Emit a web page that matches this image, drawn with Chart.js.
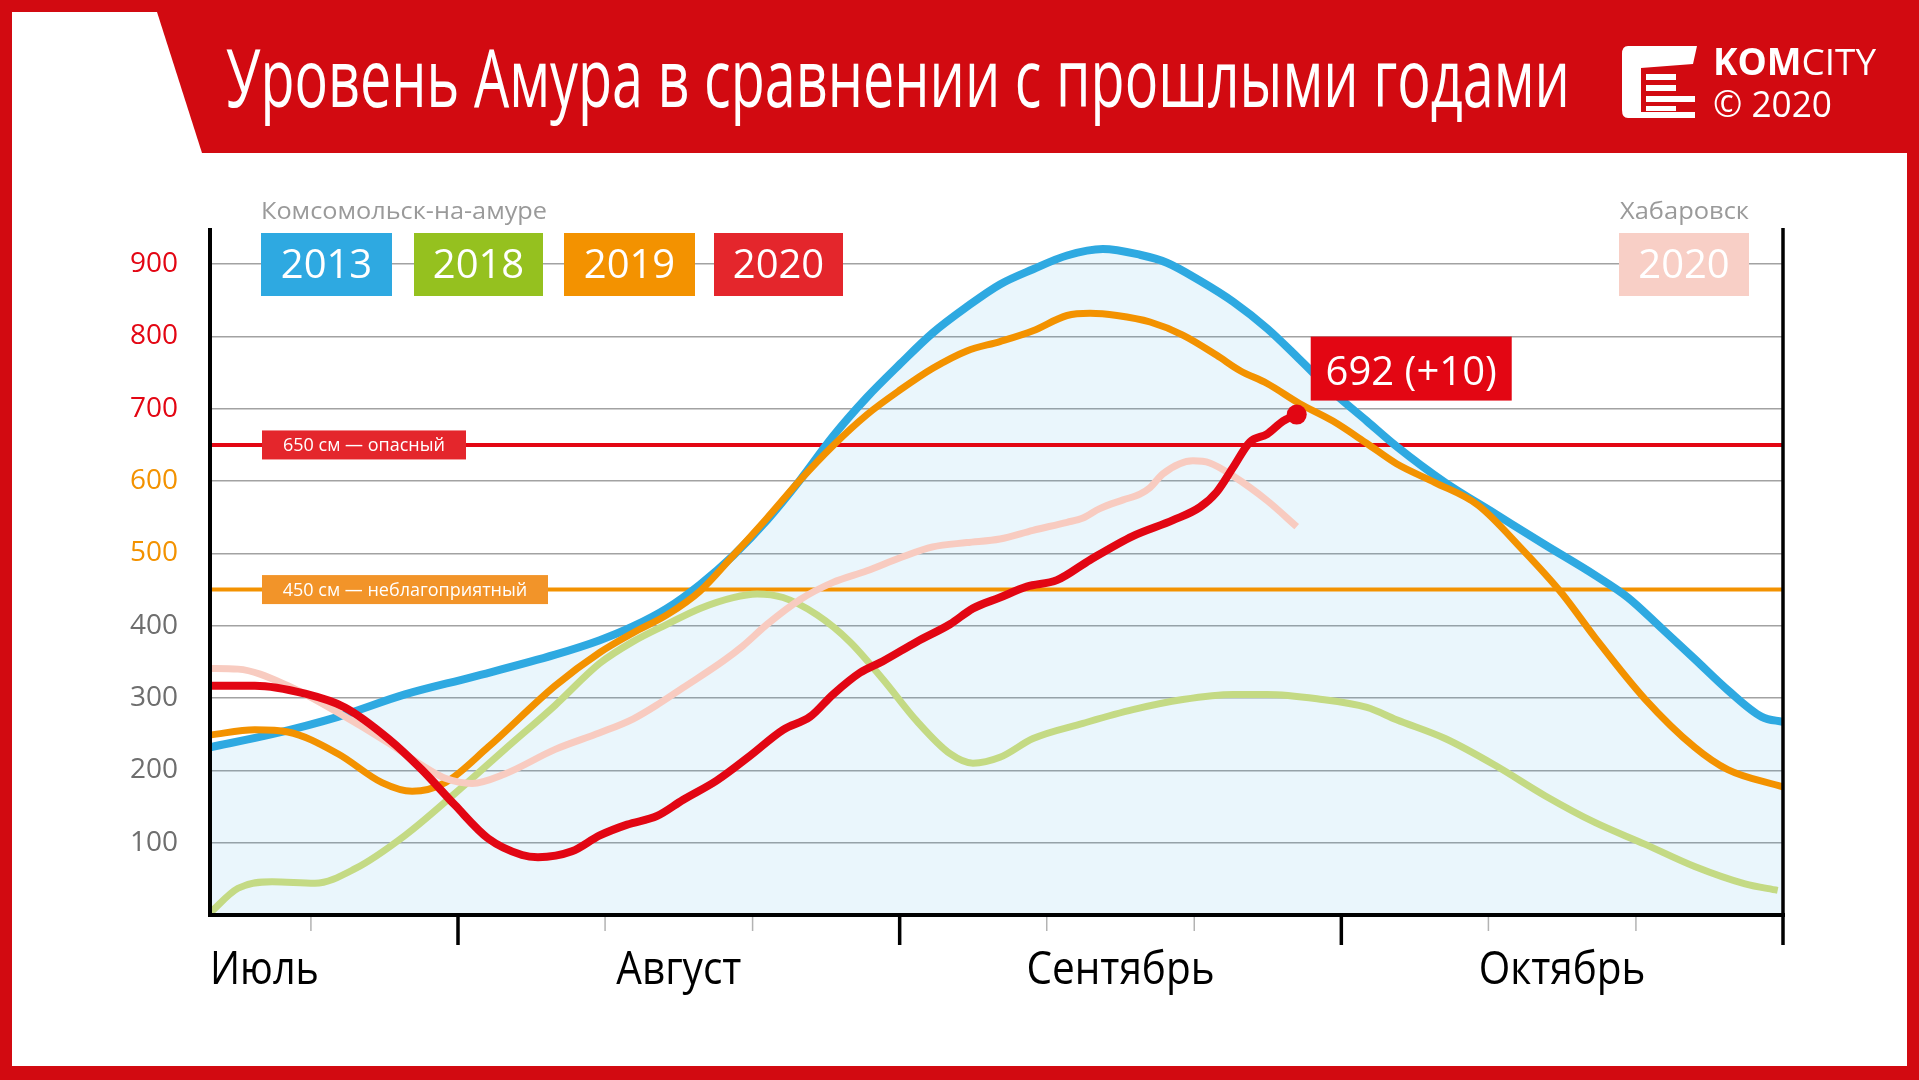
<!DOCTYPE html>
<html>
<head>
<meta charset="utf-8">
<script src="https://cdn.jsdelivr.net/npm/chart.js@4.4.0/dist/chart.umd.min.js"></script>
<style>
  html, body { margin: 0; padding: 0; background: #fff; }
  canvas { display: block; }
</style>
</head>
<body>
<canvas id="grafico" width="1919" height="1080"></canvas>
<script>
// x = месяц (1 = 1 августа, 2 = 1 сентября ...), y = уровень в см
const x2013 = [0.4385,0.579,0.728,0.880,1.032,1.220,1.321,1.396,1.473,1.548,1.623,1.700,1.774,1.849,1.926,2.001,2.075,2.152,2.227,2.302,2.379,2.460,2.544,2.605,2.680,2.755,2.832,2.906,2.981,3.058,3.125,3.235,3.348,3.461,3.574,3.649,3.726,3.800,3.875,3.952,4.0];
const y2013 = [232,250,274,305,329,360,380,399,424,457,497,546,601,662,716,762,805,841,872,893,912,921,913,902,877,848,811,768,723,683,648,598,555,512,470,439,396,354,311,274,267];

const x2018 = [0.4385,0.502,0.579,0.676,0.767,0.880,0.993,1.106,1.220,1.321,1.396,1.473,1.548,1.623,1.677,1.736,1.813,1.887,1.962,2.039,2.114,2.166,2.227,2.302,2.415,2.528,2.641,2.755,2.832,2.945,3.058,3.125,3.235,3.348,3.461,3.574,3.687,3.800,3.914,3.988];
const y2018 = [3,37,46,44,64,110,168,229,290,348,378,402,424,439,444,439,415,378,326,268,223,210,218,244,265,284,298,305,305,299,287,270,244,207,165,128,98,67,43,34];

const x2019 = [0.4385,0.540,0.615,0.728,0.828,0.896,0.971,1.068,1.220,1.321,1.396,1.473,1.548,1.623,1.700,1.774,1.849,1.926,2.001,2.075,2.152,2.227,2.302,2.379,2.431,2.492,2.567,2.641,2.718,2.770,2.832,2.906,2.981,3.058,3.125,3.212,3.309,3.409,3.499,3.574,3.687,3.800,3.875,4.0];
const y2019 = [249,256,253,223,183,171,183,232,317,363,390,415,448,497,549,601,649,692,726,756,780,793,808,829,832,829,820,802,774,753,735,707,683,652,624,598,567,506,445,384,299,232,201,177];

const x2020 = [0.4385,0.540,0.654,0.744,0.842,0.918,0.993,1.068,1.145,1.181,1.258,1.321,1.383,1.451,1.509,1.586,1.661,1.736,1.797,1.849,1.910,1.962,2.039,2.114,2.166,2.227,2.288,2.356,2.431,2.528,2.619,2.680,2.718,2.755,2.793,2.832,2.868,2.899];
const y2020 = [317,317,306,287,244,201,152,106,83,80,88,110,125,137,159,186,220,256,274,305,335,351,378,402,424,439,454,463,491,524,546,564,585,619,654,665,683,692];

const xHab2020 = [0.4385,0.502,0.615,0.728,0.842,0.918,0.971,1.032,1.106,1.220,1.321,1.396,1.457,1.509,1.600,1.645,1.700,1.774,1.849,1.926,2.001,2.075,2.152,2.227,2.302,2.379,2.415,2.453,2.506,2.544,2.567,2.596,2.664,2.702,2.755,2.832,2.899];
const yHab2020 = [341,340,317,280,238,207,189,182,195,229,252,271,293,314,351,372,402,436,460,476,494,509,515,520,532,543,549,562,574,582,591,610,628,625,607,573,537];

const years = ['2013', '2018', '2019', '2020'];
const yTicks = [100, 200, 300, 400, 500, 600, 700, 800, 900];
const months = ['Июль', 'Август', 'Сентябрь', 'Октябрь'];
const monthStarts = [1, 2, 3, 4];
const thirds = [0.667, 1.333, 1.667, 2.333, 2.667, 3.333, 3.667];
const niveles = [650, 450];
const nivelesTexto = ['650 см — опасный', '450 см — неблагоприятный'];
const ultimoNivel = 692;
const cambio = 10;
const titulo = 'Уровень Амура в сравнении с прошлыми годами';

const W = 1919, H = 1080;
const ROJO = '#d20a11';

function pares(xs, ys) {
    return xs.map((x, i) => ({ x: x, y: ys[i] }));
}

// texto estrechado horizontalmente hasta un ancho dado
function textoAjustado(ctx, txt, x, y, ancho, align) {
    const m = ctx.measureText(txt).width;
    const s = ancho / m;
    ctx.save();
    ctx.translate(x, y);
    ctx.scale(s, 1);
    ctx.textAlign = align;
    ctx.fillText(txt, 0, 0);
    ctx.restore();
}

function textoEscala(ctx, txt, x, y, s, align) {
    ctx.save();
    ctx.translate(x, y);
    ctx.scale(s, 1);
    ctx.textAlign = align;
    ctx.fillText(txt, 0, 0);
    ctx.restore();
}

const decorado = {
    id: 'decorado',
    beforeDraw(chart) {
        const ctx = chart.ctx;
        ctx.save();
        ctx.fillStyle = ROJO;
        ctx.fillRect(0, 0, W, H);
        ctx.fillStyle = '#fff';
        ctx.fillRect(12, 153, 1895, 913);
        ctx.beginPath();
        ctx.moveTo(12, 12);
        ctx.lineTo(157, 12);
        ctx.lineTo(202, 153);
        ctx.lineTo(12, 153);
        ctx.closePath();
        ctx.fill();

        // titulo
        ctx.fillStyle = '#fff';
        ctx.textBaseline = 'alphabetic';
        ctx.font = '400 80px "Open Sans"';
        textoAjustado(ctx, titulo, 226, 107, 1344, 'left');

        // logo
        ctx.beginPath();
        ctx.moveTo(1628, 46);
        ctx.lineTo(1697, 46);
        ctx.lineTo(1693, 64);
        ctx.lineTo(1641, 68);
        ctx.lineTo(1641, 118);
        ctx.lineTo(1628, 118);
        ctx.quadraticCurveTo(1622, 118, 1622, 110);
        ctx.lineTo(1622, 54);
        ctx.quadraticCurveTo(1622, 46, 1628, 46);
        ctx.fill();
        ctx.fillRect(1646, 74, 30, 6);
        ctx.fillRect(1646, 85, 30, 6);
        ctx.fillRect(1646, 96, 49, 6);
        ctx.fillRect(1646, 106, 30, 5);
        ctx.fillRect(1641, 112, 54, 6);

        ctx.font = '700 37px "Open Sans"';
        const wKom = ctx.measureText('KOM').width;
        ctx.font = '400 37px "Open Sans"';
        const wCity = ctx.measureText('CITY').width;
        const sLogo = 163 / (wKom + wCity);
        ctx.font = '700 37px "Open Sans"';
        textoEscala(ctx, 'KOM', 1713, 75, sLogo, 'left');
        ctx.font = '400 37px "Open Sans"';
        textoEscala(ctx, 'CITY', 1713 + wKom * sLogo, 75, sLogo, 'left');
        textoAjustado(ctx, '© 2020', 1713, 117, 119, 'left');

        // subtitulos de leyenda
        ctx.fillStyle = '#9a9a9a';
        ctx.font = '400 23px "Open Sans"';
        textoAjustado(ctx, 'Комсомольск-на-амуре', 261, 219, 286, 'left');
        textoAjustado(ctx, 'Хабаровск', 1749, 219, 129, 'right');
        ctx.restore();
    },
    beforeDatasetsDraw(chart) {
        const ctx = chart.ctx;
        const area = chart.chartArea;
        const y = chart.scales.y;
        ctx.save();
        const colLineas = ['#e30613', '#f39200'];
        const colCajas = ['#e4262c', '#f29429'];
        const anchos = [204, 286];
        niveles.forEach((n, i) => {
            const py = y.getPixelForValue(n);
            ctx.strokeStyle = colLineas[i];
            ctx.lineWidth = 4;
            ctx.beginPath();
            ctx.moveTo(area.left, py);
            ctx.lineTo(area.right, py);
            ctx.stroke();
            ctx.fillStyle = colCajas[i];
            ctx.fillRect(262, py - 14.5, anchos[i], 29);
            ctx.fillStyle = '#fff';
            ctx.font = '400 18px "Open Sans"';
            ctx.textAlign = 'center';
            ctx.fillText(nivelesTexto[i], 262 + anchos[i] / 2, py + 6.5);
        });

        // cajas de leyenda
        const cajas = [
            { t: years[0], c: '#2ea9e1', x0: 261, x1: 392 },
            { t: years[1], c: '#95c11f', x0: 414, x1: 543 },
            { t: years[2], c: '#f39200', x0: 564, x1: 695 },
            { t: years[3], c: '#e4262c', x0: 714, x1: 843 },
            { t: years[3], c: '#f8cfc6', x0: 1619, x1: 1749 }
        ];
        ctx.font = '400 40px "Open Sans"';
        ctx.textAlign = 'center';
        cajas.forEach(b => {
            ctx.fillStyle = b.c;
            ctx.fillRect(b.x0, 233, b.x1 - b.x0, 63);
            ctx.fillStyle = '#fff';
            ctx.fillText(b.t, (b.x0 + b.x1) / 2, 278);
        });
        ctx.restore();
    },
    afterDatasetsDraw(chart) {
        const ctx = chart.ctx;
        const area = chart.chartArea;
        const x = chart.scales.x;
        const y = chart.scales.y;
        ctx.save();
        ctx.strokeStyle = '#000';
        ctx.lineCap = 'butt';
        // ejes
        ctx.lineWidth = 4;
        ctx.beginPath();
        ctx.moveTo(area.left, area.top);
        ctx.lineTo(area.left, area.bottom + 2);
        ctx.moveTo(area.left - 2, area.bottom);
        ctx.lineTo(area.right + 2, area.bottom);
        ctx.stroke();
        // marcas de mes
        ctx.lineWidth = 3.5;
        monthStarts.forEach(m => {
            const px = x.getPixelForValue(m);
            ctx.beginPath();
            ctx.moveTo(px, m === 4 ? area.top : area.bottom);
            ctx.lineTo(px, area.bottom + 30);
            ctx.stroke();
        });
        ctx.strokeStyle = '#b3b3b3';
        ctx.lineWidth = 1.5;
        thirds.forEach(m => {
            const px = x.getPixelForValue(m);
            ctx.beginPath();
            ctx.moveTo(px, area.bottom + 2);
            ctx.lineTo(px, area.bottom + 16);
            ctx.stroke();
        });
        // nombres de meses
        ctx.fillStyle = '#000';
        ctx.font = '400 45px "Open Sans"';
        textoEscala(ctx, months[0], area.left, 984, 0.88, 'left');
        for (let i = 1; i < months.length; i++) {
            textoEscala(ctx, months[i], x.getPixelForValue(i + 0.5), 984, 0.9, 'center');
        }
        // etiqueta del ultimo valor
        const px = x.getPixelForValue(x2020[x2020.length - 1]);
        const py = y.getPixelForValue(ultimoNivel);
        ctx.fillStyle = '#e30613';
        ctx.fillRect(px + 14, py - 78, 201, 64);
        ctx.fillStyle = '#fff';
        ctx.font = '400 40px "Open Sans"';
        ctx.textAlign = 'center';
        ctx.fillText(`${ultimoNivel} (+${cambio})`, px + 14 + 100.5, py - 30);
        ctx.restore();
    }
};

const puntos2020 = x2020.map((v, i) => i === x2020.length - 1 ? 10 : 0);

const ctx = document.getElementById('grafico').getContext('2d');
new Chart(ctx, {
    type: 'line',
    data: {
        datasets: [
            {
                label: 'Комсомольск 2020',
                data: pares(x2020, y2020),
                borderColor: '#e20613',
                borderWidth: 8,
                pointRadius: puntos2020,
                pointBackgroundColor: '#e20613',
                pointBorderWidth: 0
            },
            {
                label: 'Хабаровск 2020',
                data: pares(xHab2020, yHab2020),
                borderColor: '#f8cbc0',
                borderWidth: 7
            },
            {
                label: '2019',
                data: pares(x2019, y2019),
                borderColor: '#f39200',
                borderWidth: 7
            },
            {
                label: '2018',
                data: pares(x2018, y2018),
                borderColor: '#c4da84',
                borderWidth: 7
            },
            {
                label: '2013',
                data: pares(x2013, y2013),
                borderColor: '#2ea9e1',
                borderWidth: 8,
                fill: 'origin',
                backgroundColor: 'rgba(46,169,225,0.1)'
            }
        ]
    },
    options: {
        responsive: false,
        animation: false,
        devicePixelRatio: 1,
        layout: { padding: { left: 0, top: 228, right: 136, bottom: 165 } },
        elements: {
            line: { cubicInterpolationMode: 'monotone', fill: false, borderJoinStyle: 'round' },
            point: { radius: 0, hoverRadius: 0 }
        },
        scales: {
            x: {
                type: 'linear',
                min: 0.4385,
                max: 4,
                display: false
            },
            y: {
                min: 0,
                max: 950,
                afterBuildTicks: s => { s.ticks = yTicks.map(v => ({ value: v })); },
                afterFit: s => { s.width = 210; },
                border: { display: false },
                grid: { color: '#a2a2a2', lineWidth: 1.5, drawTicks: false },
                ticks: {
                    padding: 32,
                    font: { family: 'Open Sans', size: 28 },
                    color: c => c.tick.value >= 700 ? '#e30613' : (c.tick.value >= 500 ? '#f39200' : '#6e6e6e')
                }
            }
        },
        plugins: {
            filler: { drawTime: 'beforeDatasetsDraw' },
            legend: { display: false },
            tooltip: { enabled: false }
        }
    },
    plugins: [decorado]
});
</script>
</body>
</html>
